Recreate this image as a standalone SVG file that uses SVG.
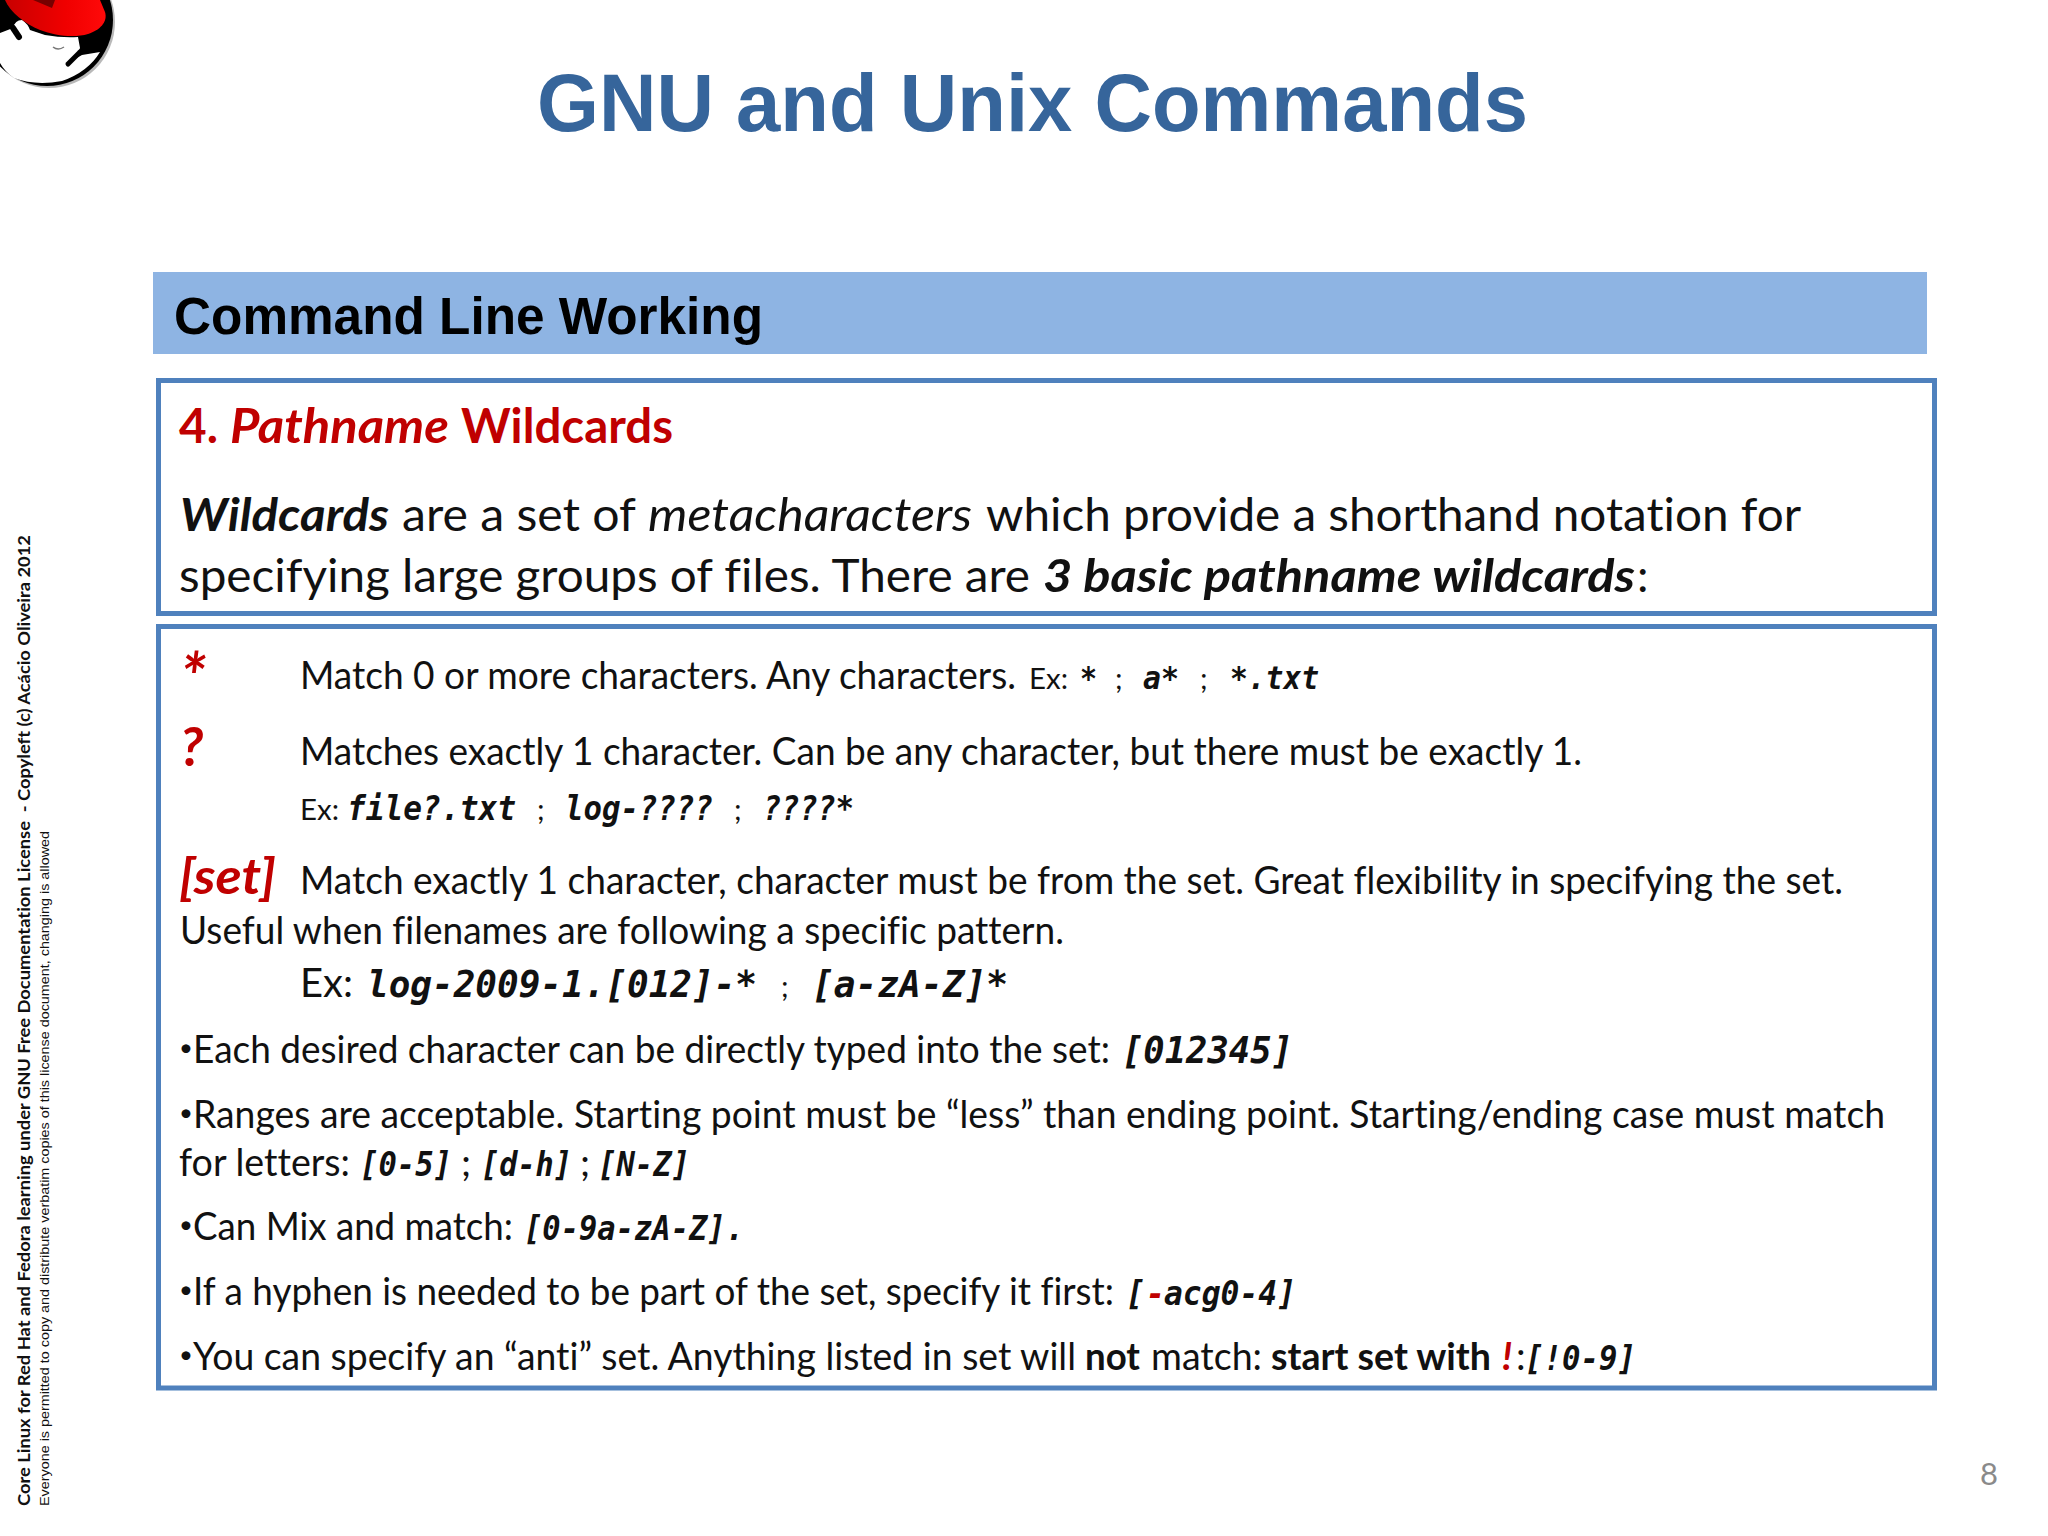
<svg xmlns="http://www.w3.org/2000/svg" width="2048" height="1536" viewBox="0 0 2048 1536">
<style>
text{font-family:"Lato","Liberation Sans",sans-serif;fill:#111;white-space:pre;font-variant-ligatures:none}
.t{font-family:"Liberation Sans",Arial,sans-serif;font-weight:700}
.b{font-size:38.5px}
.h{font-size:46px}
.s{font-size:29px}
.bi{font-weight:700;font-style:italic}
.bd{font-weight:700}
.i{font-style:italic}
.m{font-family:"DejaVu Sans Mono",monospace;font-weight:700;font-style:italic}
.r{fill:#C00000}
.p{font-size:24px}
.box{fill:#fff;stroke:#4F81BD;stroke-width:5}
</style>
<defs><linearGradient id="hat" x1="0" y1="0" x2="1" y2="0"><stop offset="0" stop-color="#C80000"/><stop offset=".6" stop-color="#F00000"/><stop offset="1" stop-color="#FF0A0A"/></linearGradient></defs>
<rect width="2048" height="1536" fill="#fff"/>
<g id="logo">
<circle cx="49" cy="22" r="66" fill="#8a8a8a" opacity=".6"/>
<circle cx="47" cy="20" r="66" fill="#000"/>
<path d="M0 33L13 28Q15 20 22 20Q28 24 30 30L45 35Q62 38 78 37L80 48L76 57L67 64L71 61L82 55L100 52Q88 72 62 81Q35 86 14 78Q5 72 0 63Z" fill="#fff"/>
<path d="M13 28L19 37" stroke="#000" stroke-width="6" stroke-linecap="round"/>
<path d="M68 64L80 52" stroke="#000" stroke-width="5" stroke-linecap="round"/>
<path d="M53 47Q58 51 64 47" stroke="#777" stroke-width="1.5" fill="none"/>
<path d="M5 0C10 12 25 24 40 30C55 36 75 38 88 34C100 30 108 22 105 12L100 0Z" fill="url(#hat)"/>
<path d="M33 0L52 8L55 0Z" fill="#700"/>
</g>
<text id="title" class="t" x="537" y="131" font-size="82" style="fill:#36659B" textLength="991" lengthAdjust="spacingAndGlyphs">GNU and Unix Commands</text>
<g id="header"><rect x="153" y="272" width="1774" height="82" fill="#8EB4E3"/>
<text class="t" x="174" y="334" font-size="51" textLength="589" lengthAdjust="spacingAndGlyphs" style="fill:#000">Command Line Working</text></g>
<g id="box1"><rect class="box" x="158.500" y="380.500" width="1776" height="233"/>
<text class="bd r" style="font-size:48px" y="443"><tspan x="179" textLength="39" lengthAdjust="spacingAndGlyphs">4.</tspan> <tspan class="i" x="230" textLength="219" lengthAdjust="spacingAndGlyphs">Pathname</tspan> <tspan x="461" textLength="212" lengthAdjust="spacingAndGlyphs">Wildcards</tspan></text>
<text class="h" y="531"><tspan class="bi" x="180" textLength="209" lengthAdjust="spacingAndGlyphs">Wildcards</tspan> <tspan x="402" textLength="233" lengthAdjust="spacingAndGlyphs">are a set of</tspan> <tspan class="i" x="648" textLength="324" lengthAdjust="spacingAndGlyphs">metacharacters</tspan> <tspan x="986" textLength="815" lengthAdjust="spacingAndGlyphs">which provide a shorthand notation for</tspan></text>
<text class="h" y="592"><tspan x="179" textLength="851" lengthAdjust="spacingAndGlyphs">specifying large groups of files. There are</tspan> <tspan class="bi" x="1043" textLength="592" lengthAdjust="spacingAndGlyphs">3 basic pathname wildcards</tspan><tspan x="1637">:</tspan></text>
</g>
<g id="box2"><rect class="box" x="158.500" y="626.500" width="1776" height="761.500"/>
<text class="bi r" x="180" y="701" style="font-size:66px">*</text>
<text class="b" y="689"><tspan x="300" textLength="716" lengthAdjust="spacingAndGlyphs">Match 0 or more characters. Any characters.</tspan> <tspan class="s" x="1029" textLength="39" lengthAdjust="spacingAndGlyphs">Ex:</tspan> <tspan class="m" x="1080" font-size="32" textLength="17" lengthAdjust="spacingAndGlyphs">*</tspan> <tspan class="s" x="1115">;</tspan> <tspan class="m" x="1143" font-size="32" textLength="36" lengthAdjust="spacingAndGlyphs">a*</tspan> <tspan class="s" x="1200">;</tspan> <tspan class="m" x="1230" font-size="32" textLength="89" lengthAdjust="spacingAndGlyphs">*.txt</tspan></text>
<text class="bi r" x="180" y="766" style="font-size:54px">?</text>
<text class="b" x="300" y="765" textLength="1282" lengthAdjust="spacingAndGlyphs">Matches exactly 1 character. Can be any character, but there must be exactly 1.</text>
<text class="s" y="820"><tspan x="300" textLength="39" lengthAdjust="spacingAndGlyphs">Ex:</tspan> <tspan class="m" x="347" font-size="33" textLength="169" lengthAdjust="spacingAndGlyphs">file?.txt</tspan> <tspan x="537">;</tspan> <tspan class="m" x="565" font-size="33" textLength="148" lengthAdjust="spacingAndGlyphs">log-????</tspan> <tspan x="734">;</tspan> <tspan class="m" x="763" font-size="33" textLength="91" lengthAdjust="spacingAndGlyphs">????*</tspan></text>
<text class="bi r" x="179" y="894" style="font-size:50px" textLength="97" lengthAdjust="spacingAndGlyphs">[set]</text>
<text class="b" x="300" y="894" textLength="1543" lengthAdjust="spacingAndGlyphs">Match exactly 1 character, character must be from the set. Great flexibility in specifying the set.</text>
<text class="b" x="180" y="944" textLength="884" lengthAdjust="spacingAndGlyphs">Useful when filenames are following a specific pattern.</text>
<text style="font-size:41px" y="997"><tspan x="300" textLength="53" lengthAdjust="spacingAndGlyphs">Ex:</tspan> <tspan class="m" x="367" font-size="38" textLength="390" lengthAdjust="spacingAndGlyphs">log-2009-1.[012]-*</tspan> <tspan class="s" x="781">;</tspan> <tspan class="m" x="812" font-size="38" textLength="196" lengthAdjust="spacingAndGlyphs">[a-zA-Z]*</tspan></text>
<text class="b" y="1063"><tspan class="p" x="179" dy="-7">•</tspan><tspan x="193" dy="7" textLength="917" lengthAdjust="spacingAndGlyphs">Each desired character can be directly typed into the set:</tspan> <tspan class="m" x="1122" font-size="38" textLength="171" lengthAdjust="spacingAndGlyphs">[012345]</tspan></text>
<text class="b" y="1128"><tspan class="p" x="179" dy="-7">•</tspan><tspan x="193" dy="7" textLength="1692" lengthAdjust="spacingAndGlyphs">Ranges are acceptable. Starting point must be “less” than ending point. Starting/ending case must match</tspan></text>
<text class="b" y="1176"><tspan x="179" textLength="171" lengthAdjust="spacingAndGlyphs">for letters:</tspan> <tspan class="m" x="360" font-size="33" textLength="92" lengthAdjust="spacingAndGlyphs">[0-5]</tspan> <tspan x="461">;</tspan> <tspan class="m" x="481" font-size="33" textLength="91" lengthAdjust="spacingAndGlyphs">[d-h]</tspan> <tspan x="580">;</tspan> <tspan class="m" x="598" font-size="33" textLength="92" lengthAdjust="spacingAndGlyphs">[N-Z]</tspan></text>
<text class="b" y="1240"><tspan class="p" x="179" dy="-7">•</tspan><tspan x="193" dy="7" textLength="320" lengthAdjust="spacingAndGlyphs">Can Mix and match:</tspan> <tspan class="m" x="524" font-size="33" textLength="220" lengthAdjust="spacingAndGlyphs">[0-9a-zA-Z].</tspan></text>
<text class="b" y="1305"><tspan class="p" x="179" dy="-7">•</tspan><tspan x="193" dy="7" textLength="921" lengthAdjust="spacingAndGlyphs">If a hyphen is needed to be part of the set, specify it first:</tspan> <tspan class="m" x="1126" font-size="33" textLength="19" lengthAdjust="spacingAndGlyphs">[</tspan><tspan class="m r" x="1146" font-size="33" textLength="19" lengthAdjust="spacingAndGlyphs">-</tspan><tspan class="m" x="1164" font-size="33" textLength="132" lengthAdjust="spacingAndGlyphs">acg0-4]</tspan></text>
<text class="b" y="1370"><tspan class="p" x="179" dy="-7">•</tspan><tspan x="193" dy="7" textLength="883" lengthAdjust="spacingAndGlyphs">You can specify an “anti” set. Anything listed in set will</tspan> <tspan class="bd" x="1085" textLength="55" lengthAdjust="spacingAndGlyphs">not</tspan> <tspan x="1151" textLength="111" lengthAdjust="spacingAndGlyphs">match:</tspan> <tspan class="bd" x="1271" textLength="220" lengthAdjust="spacingAndGlyphs">start set with</tspan> <tspan class="bi r" x="1502">!</tspan><tspan x="1516">:</tspan><tspan class="m" x="1525" font-size="33" textLength="111" lengthAdjust="spacingAndGlyphs">[!0-9]</tspan></text>
</g>
<g id="side">
<text class="bd" transform="translate(30 1506) rotate(-90)" style="font-size:17.500px" textLength="971" lengthAdjust="spacingAndGlyphs">Core Linux for Red Hat and Fedora learning under GNU Free Documentation License  - Copyleft (c) Acácio Oliveira 2012</text>
<text transform="translate(49 1506) rotate(-90)" style="font-family:'Liberation Sans',sans-serif;font-size:13.500px" textLength="675" lengthAdjust="spacingAndGlyphs">Everyone is permitted to copy and distribute verbatim copies of this license document, changing is allowed</text>
</g>
<text id="page" x="1980" y="1485" style="font-size:31px;fill:#8A8A8A">8</text>
</svg>
